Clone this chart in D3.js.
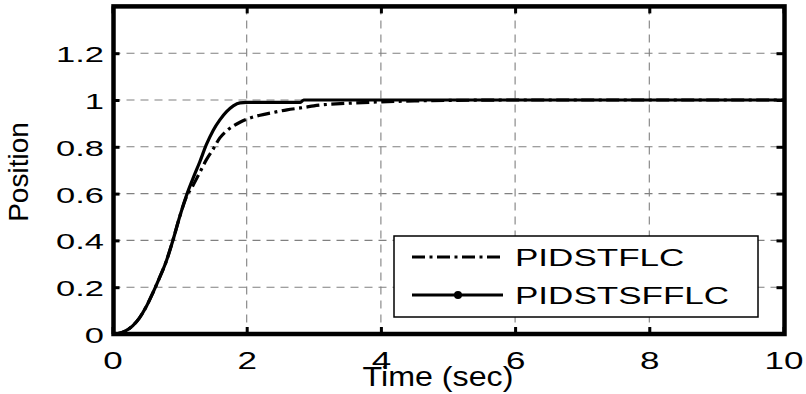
<!DOCTYPE html>
<html>
<head>
<meta charset="utf-8">
<script src="https://cdn.jsdelivr.net/npm/d3@7"></script>
<style>
  html, body { margin: 0; padding: 0; background: #fff; }
  svg { display: block; }
  text { font-family: "Liberation Sans", Arial, sans-serif; fill: #000; }
</style>
</head>
<body>
<svg id="chart" width="806" height="394"></svg>
<script>
// Step response of the two controllers
const timeSec = [0, 0.1, 0.2, 0.3, 0.4, 0.5, 0.6, 0.7, 0.8, 0.9, 1.0, 1.1, 1.2, 1.3, 1.4,
  1.5, 1.6, 1.7, 1.8, 1.9, 2.0, 2.2, 2.4, 2.6, 2.8, 2.85, 3.0, 3.5, 4.0, 4.5, 5.0,
  6.0, 7.0, 8.0, 9.0, 10.0];
const pidstflc = [0, 0.003, 0.014, 0.035, 0.068, 0.115, 0.175, 0.24, 0.31, 0.40, 0.50,
  0.585, 0.635, 0.69, 0.745, 0.79, 0.838, 0.868, 0.889, 0.905, 0.918, 0.935, 0.947,
  0.958, 0.966, 0.968, 0.975, 0.986, 0.992, 0.996, 0.998, 1, 1, 1, 1, 1];
const pidstsfflc = [0, 0.003, 0.014, 0.035, 0.068, 0.115, 0.175, 0.24, 0.31, 0.40, 0.50,
  0.59, 0.665, 0.735, 0.81, 0.87, 0.915, 0.95, 0.975, 0.988, 0.99, 0.99, 0.99, 0.99,
  0.99, 1.0, 1, 1, 1, 1, 1, 1, 1, 1, 1, 1];

const seriesNames = ["PIDSTFLC", "PIDSTSFFLC"];
const xTicks = [0, 2, 4, 6, 8, 10];
const yTicks = [0, 0.2, 0.4, 0.6, 0.8, 1, 1.2];
const xTitle = "Time (sec)";
const yTitle = "Position";

const svg = d3.select("#chart");
const plotL = 112.5, plotR = 783.5, plotT = 6.4, plotB = 334;

const x = d3.scaleLinear().domain([0, 10]).range([plotL, plotR]);
const y = d3.scaleLinear().domain([0, 1.4]).range([plotB, plotT]);

// dashed grid
const grid = svg.append("g")
  .attr("stroke", "#808080").attr("stroke-width", 1.1).attr("stroke-dasharray", "8,6");
grid.selectAll("line.v").data(xTicks.filter(d => d > 0 && d < 10)).join("line")
  .attr("class", "v")
  .attr("x1", d => x(d)).attr("x2", d => x(d)).attr("y1", plotT).attr("y2", plotB);
grid.selectAll("line.h").data(yTicks.filter(d => d > 0)).join("line")
  .attr("class", "h")
  .attr("y1", d => y(d)).attr("y2", d => y(d)).attr("x1", plotL).attr("x2", plotR);

// curves
const rows = timeSec.map((t, i) => ({ t, a: pidstflc[i], b: pidstsfflc[i] }));
const lineA = d3.line().x(d => x(d.t)).y(d => y(d.a)).curve(d3.curveMonotoneX);
const lineB = d3.line().x(d => x(d.t)).y(d => y(d.b)).curve(d3.curveMonotoneX);

svg.append("path").datum(rows).attr("d", lineA)
  .attr("fill", "none").attr("stroke", "#000").attr("stroke-width", 3.2)
  .attr("stroke-dasharray", "13,4.5,3,4.5");
svg.append("path").datum(rows).attr("d", lineB)
  .attr("fill", "none").attr("stroke", "#000").attr("stroke-width", 3.2)
  .attr("stroke-linejoin", "round");

// axes with inward ticks on all four sides
const fmt = d => String(d);
const tickLen = 7;
const gx = svg.append("g").attr("transform", `translate(0,${plotB})`)
  .call(d3.axisBottom(x).tickValues(xTicks).tickFormat(fmt).tickSize(-tickLen));
const gy = svg.append("g").attr("transform", `translate(${plotL},0)`)
  .call(d3.axisLeft(y).tickValues(yTicks).tickFormat(fmt).tickSize(-tickLen));
const gt = svg.append("g").attr("transform", `translate(0,${plotT})`)
  .call(d3.axisTop(x).tickValues(xTicks).tickFormat("").tickSize(-tickLen));
const gr = svg.append("g").attr("transform", `translate(${plotR},0)`)
  .call(d3.axisRight(y).tickValues(yTicks).tickFormat("").tickSize(-tickLen));

[gx, gy, gt, gr].forEach(g => {
  g.select(".domain").remove();
  g.selectAll(".tick line").attr("stroke", "#000").attr("stroke-width", 3);
});

gx.selectAll(".tick text")
  .attr("x", null).attr("y", null).attr("dy", null)
  .attr("font-size", 23).attr("text-anchor", "middle")
  .attr("transform", "translate(0,34.5) scale(1.52,1)");
gy.selectAll(".tick text")
  .attr("x", null).attr("y", null).attr("dy", null)
  .attr("font-size", 23).attr("text-anchor", "end")
  .attr("transform", "translate(-8.5,8.5) scale(1.5,1)");

// frame
svg.append("rect")
  .attr("x", plotL + 1).attr("y", plotT)
  .attr("width", plotR - plotL).attr("height", plotB - plotT)
  .attr("fill", "none").attr("stroke", "#000").attr("stroke-width", 4.5);

// axis titles
svg.append("text").text(xTitle)
  .attr("font-size", 28).attr("text-anchor", "middle")
  .attr("transform", "translate(438,386) scale(1.15,1)");
svg.append("text").text(yTitle)
  .attr("font-size", 28).attr("text-anchor", "middle")
  .attr("transform", "translate(28,172) rotate(-90)");

// legend
const lg = svg.append("g");
lg.append("rect").attr("x", 394).attr("y", 236).attr("width", 364).attr("height", 81)
  .attr("fill", "#fff").attr("stroke", "#000").attr("stroke-width", 1.5);
const rowY = [257, 295];
const dashes = ["13,4.5,3,4.5", null];
seriesNames.forEach((name, i) => {
  const ln = lg.append("line")
    .attr("x1", 412).attr("x2", 503).attr("y1", rowY[i]).attr("y2", rowY[i])
    .attr("stroke", "#000").attr("stroke-width", 3.2);
  if (dashes[i]) ln.attr("stroke-dasharray", dashes[i]);
  if (i === 1) lg.append("circle").attr("cx", 458).attr("cy", rowY[i]).attr("r", 4).attr("fill", "#000");
  lg.append("text").text(name)
    .attr("font-size", 24)
    .attr("transform", `translate(515,${rowY[i] + 9}) scale(1.46,1)`);
});
</script>
</body>
</html>
